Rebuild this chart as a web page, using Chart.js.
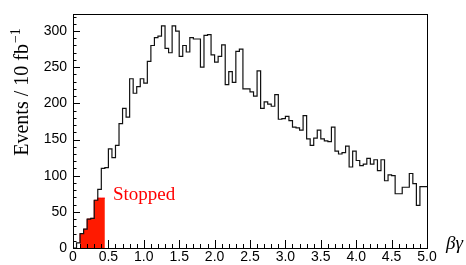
<!DOCTYPE html>
<html><head><meta charset="utf-8">
<script src="https://cdn.jsdelivr.net/npm/chart.js@4/dist/chart.umd.min.js"></script>
<style>html,body{margin:0;padding:0;background:#fff;}#wrap{width:466px;height:265px;position:relative}</style>
</head><body><div id="wrap"><canvas id="c" width="466" height="265"></canvas></div>
<script>
// Bin edges (βγ), 100 bins of width 0.05 from 0 to 5
const binEdges = [0,0.05,0.1,0.15,0.2,0.25,0.3,0.35,0.4,0.45,0.5,0.55,0.6,0.65,0.7,0.75,0.8,0.85,0.9,0.95,
  1,1.05,1.1,1.15,1.2,1.25,1.3,1.35,1.4,1.45,1.5,1.55,1.6,1.65,1.7,1.75,1.8,1.85,1.9,1.95,
  2,2.05,2.1,2.15,2.2,2.25,2.3,2.35,2.4,2.45,2.5,2.55,2.6,2.65,2.7,2.75,2.8,2.85,2.9,2.95,
  3,3.05,3.1,3.15,3.2,3.25,3.3,3.35,3.4,3.45,3.5,3.55,3.6,3.65,3.7,3.75,3.8,3.85,3.9,3.95,
  4,4.05,4.1,4.15,4.2,4.25,4.3,4.35,4.4,4.45,4.5,4.55,4.6,4.65,4.7,4.75,4.8,4.85,4.9,4.95,5];
// All events per bin
const events = [0,0,7,20,26,40,41,66,81,110,
  111,137,125,142,172,193,181,234,214,223,
  234,228,258,280,291,293,307,276,270,307,
  300,265,280,271,291,289,289,250,294,295,
  267,257,265,281,226,244,229,272,275,220,
  220,216,210,245,193,202,199,196,212,178,
  179,182,176,167,166,163,183,151,142,152,
  163,151,148,147,167,134,130,132,141,112,
  134,121,114,116,124,116,122,107,122,93,
  101,100,75,75,84,84,103,89,59,85];
// Stopped events (first bins only)
const stopped = [0,0,7,20,26,40,41,66,69];
const xTicks = [0,0.5,1,1.5,2,2.5,3,3.5,4,4.5,5];
const yTicks = [0,50,100,150,200,250,300];

const totalPts = events.map((v,i)=>({x:binEdges[i], y:v}));
totalPts.push({x:binEdges[events.length], y:events[events.length-1]});
const stopPts = [];
stopped.forEach((v,i)=>{ if(v>0) stopPts.push({x:binEdges[i], y:v}); });
stopPts.push({x:binEdges[stopped.length], y:stopped[stopped.length-1]});

const frame = {
  id:'frame',
  afterDraw(chart){
    const ctx = chart.ctx, a = chart.chartArea, xs = chart.scales.x, ys = chart.scales.y;
    ctx.save();
    ctx.strokeStyle = '#000'; ctx.lineWidth = 1;
    ctx.strokeRect(Math.round(a.left)+0.5, Math.round(a.top)+0.5, Math.round(a.right-a.left), Math.round(a.bottom-a.top));
    ctx.beginPath();
    for (let k=0;k<=50;k++){
      const v = k/10, px = Math.round(xs.getPixelForValue(v))+0.5;
      const len = (k%5===0)?8:4;
      ctx.moveTo(px, a.bottom); ctx.lineTo(px, a.bottom-len);
    }
    for (let k=0;k<=32;k++){
      const v = k*10, py = Math.round(ys.getPixelForValue(v))+0.5;
      const len = (k%5===0)?7:3.5;
      ctx.moveTo(a.left, py); ctx.lineTo(a.left+len, py);
    }
    ctx.stroke();
    // y title
    ctx.fillStyle = '#000';
    ctx.translate(28, 92);
    ctx.rotate(-Math.PI/2);
    ctx.font = '20px "Liberation Serif"';
    const t1 = 'Events / 10 fb';
    const w1 = ctx.measureText(t1).width;
    ctx.font = '14px "Liberation Serif"';
    const t2 = '\u22121';
    const w2 = ctx.measureText(t2).width;
    const start = -(w1+w2+1)/2;
    ctx.font = '20px "Liberation Serif"';
    ctx.textBaseline = 'alphabetic';
    ctx.fillText(t1, start, 0);
    ctx.font = '14px "Liberation Serif"';
    ctx.fillText(t2, start+w1+1, -8);
    ctx.restore();
    ctx.save();
    ctx.fillStyle = '#ff0000';
    ctx.font = '19px "Liberation Serif"';
    ctx.fillText('Stopped', 113, 200);
    ctx.fillStyle = '#000';
    ctx.font = 'italic 19px "Liberation Serif"';
    ctx.fillText('\u03b2\u03b3', 446, 249);
    ctx.restore();
  }
};

new Chart(document.getElementById('c'), {
  type:'line',
  data:{ datasets:[
    {data:totalPts, stepped:'after', borderColor:'#111', borderWidth:1.2, pointRadius:0, fill:false, order:0},
    {data:stopPts, stepped:'after', borderColor:'#ff0000', backgroundColor:'#ff1a00', borderWidth:1, pointRadius:0, fill:'origin', order:1}
  ]},
  options:{
    responsive:false, animation:false, devicePixelRatio:1,
    layout:{padding:{left:0,right:39,top:7,bottom:0}},
    plugins:{legend:{display:false}, tooltip:{enabled:false}},
    scales:{
      x:{type:'linear', min:0, max:5,
        afterBuildTicks(s){ s.ticks = xTicks.map(v=>({value:v})); },
        afterFit(s){ s.height = 17; },
        grid:{display:false, drawTicks:false, tickLength:0}, border:{display:false},
        ticks:{color:'#000', font:{family:'Liberation Sans', size:14, lineHeight:1}, padding:2, maxRotation:0, autoSkip:false}},
      y:{type:'linear', min:0, max:323,
        afterBuildTicks(s){ s.ticks = yTicks.map(v=>({value:v})); },
        afterFit(s){ s.width = 73; },
        grid:{display:false, drawTicks:false, tickLength:0}, border:{display:false},
        ticks:{color:'#000', font:{family:'Liberation Sans', size:14}, padding:6}}
    }
  },
  plugins:[frame]
});
</script></body></html>
